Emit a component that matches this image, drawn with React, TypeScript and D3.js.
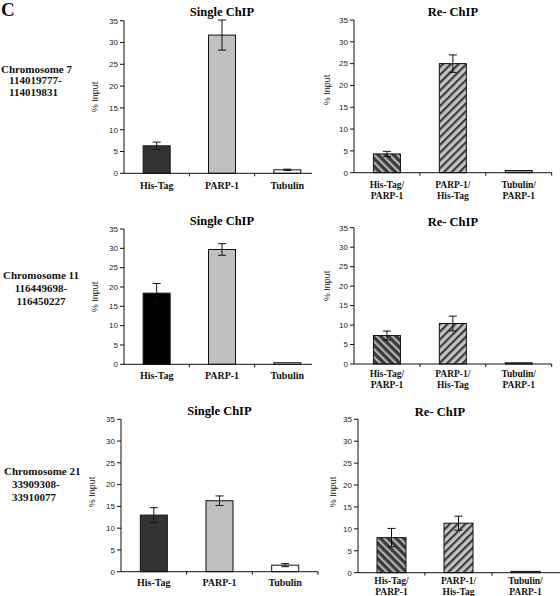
import React from "react";
import * as d3 from "d3";

// ---------- data ----------
const singleCategories = ["His-Tag", "PARP-1", "Tubulin"];
const reChipCategories = ["His-Tag/|PARP-1", "PARP-1/|His-Tag", "Tubulin/|PARP-1"];
const yTickValues = [0, 5, 10, 15, 20, 25, 30, 35];

const chr7SingleValues = [6.3, 31.7, 0.8];
const chr7SingleErrors = [0.85, 3.45, 0.15];
const chr7ReValues = [4.3, 25.0, 0.5];
const chr7ReErrors = [0.6, 2.0, 0];

const chr11SingleValues = [18.4, 29.7, 0.4];
const chr11SingleErrors = [2.5, 1.5, 0];
const chr11ReValues = [7.3, 10.4, 0.3];
const chr11ReErrors = [1.15, 1.9, 0];

const chr21SingleValues = [13.0, 16.3, 1.5];
const chr21SingleErrors = [1.7, 1.1, 0.35];
const chr21ReValues = [8.0, 11.3, 0.3];
const chr21ReErrors = [2.1, 1.6, 0];

const chr7Label = ["Chromosome 7", "114019777-", "114019831"];
const chr11Label = ["Chromosome 11", "116449698-", "116450227"];
const chr21Label = ["Chromosome 21", "33909308-", "33910077"];

const singleTitle = "Single ChIP";
const reTitle = "Re- ChIP";
const yAxisTitle = "% Input";

// ---------- layout ----------
const SERIF = "'Liberation Serif', 'Times New Roman', serif";
const SANS = "'Liberation Sans', Arial, sans-serif";

type Layout = {
  x0: number; x1: number; axisEnd: number; yTop: number; yBot: number;
  titleY: number; titleX?: number; labelY: number; labelGap: number;
  yLabelX: number; yLabelY: number; barW: number; endTick: boolean;
};

const layouts: Record<string, Layout> = {
  s1: { x0: 124, x1: 320, axisEnd: 312, yTop: 20.7, yBot: 173.3, titleY: 15.5, labelY: 188.5, labelGap: 0, yLabelX: 98, yLabelY: 97, barW: 27, endTick: false },
  r1: { x0: 354, x1: 551.7, axisEnd: 551.7, yTop: 20, yBot: 172.7, titleY: 15.5, labelY: 187.5, labelGap: 11, yLabelX: 330, yLabelY: 90, barW: 27, endTick: true },
  s2: { x0: 124, x1: 320, axisEnd: 312, yTop: 229, yBot: 364.3, titleY: 225, labelY: 379, labelGap: 0, yLabelX: 98, yLabelY: 297, barW: 27, endTick: false },
  r2: { x0: 354, x1: 551.7, axisEnd: 551.7, yTop: 227.7, yBot: 364, titleY: 226, labelY: 376.5, labelGap: 11, yLabelX: 330, yLabelY: 286, barW: 27, endTick: true },
  s3: { x0: 121, x1: 318, axisEnd: 318, yTop: 419.3, yBot: 571.7, titleY: 415, labelY: 585.5, labelGap: 0, yLabelX: 95, yLabelY: 492, barW: 27, endTick: true },
  r3: { x0: 358, x1: 559, axisEnd: 560, yTop: 419.3, yBot: 572.7, titleY: 416, titleX: 440, labelY: 583.5, labelGap: 11.5, yLabelX: 336, yLabelY: 492, barW: 29, endTick: false },
};

type PanelProps = {
  L: Layout; cats: string[]; values: number[]; errors: number[];
  fills: string[]; title: string;
};

function Panel({ L, cats, values, errors, fills, title }: PanelProps) {
  const x = d3.scaleBand<string>().domain(cats).range([L.x0, L.x1]).padding(0);
  const y = d3.scaleLinear().domain([0, 35]).range([L.yBot, L.yTop]);
  const bw = x.bandwidth();
  const boundaries = cats.map((_, i) => L.x0 + bw * (i + 1)).filter((v, i) => i < cats.length - 1 || L.endTick);
  const titleX = L.titleX ?? (L.x0 + L.x1) / 2;
  return (
    <g>
      <text x={titleX} y={L.titleY} textAnchor="middle" fontFamily={SERIF} fontWeight="bold" fontSize={12.5}>{title}</text>
      {cats.map((c, i) => {
        const cx = (x(c) as number) + bw / 2;
        const top = y(values[i]);
        return (
          <g key={c}>
            <rect x={cx - L.barW / 2} y={top} width={L.barW} height={L.yBot - top} fill={fills[i]} stroke="#111" strokeWidth={1} />
            {errors[i] > 0 && (
              <g stroke="#111" strokeWidth={1}>
                <line x1={cx} x2={cx} y1={y(values[i] - errors[i])} y2={y(values[i] + errors[i])} />
                <line x1={cx - 4} x2={cx + 4} y1={y(values[i] + errors[i])} y2={y(values[i] + errors[i])} />
                <line x1={cx - 4} x2={cx + 4} y1={y(values[i] - errors[i])} y2={y(values[i] - errors[i])} />
              </g>
            )}
          </g>
        );
      })}
      <line x1={L.x0} x2={L.x0} y1={y(35)} y2={y(0)} stroke="#111" strokeWidth={1} />
      {yTickValues.map((t) => (
        <g key={t}>
          <line x1={L.x0 - 4} x2={L.x0} y1={y(t)} y2={y(t)} stroke="#111" strokeWidth={1} />
          <text x={L.x0 - 6} y={y(t)} dy="0.35em" textAnchor="end" fontFamily={SANS} fontSize={8} fill="#222">{t}</text>
        </g>
      ))}
      <text transform={`translate(${L.yLabelX},${L.yLabelY}) rotate(-90)`} textAnchor="middle" fontFamily={SANS} fontSize={9} fill="#222">{yAxisTitle}</text>
      <line x1={L.x0} x2={L.axisEnd} y1={L.yBot} y2={L.yBot} stroke="#111" strokeWidth={1} />
      {boundaries.map((b, i) => (
        <line key={i} x1={b} x2={b} y1={L.yBot} y2={L.yBot + 3} stroke="#111" strokeWidth={1} />
      ))}
      {cats.map((c) => {
        const cx = (x(c) as number) + bw / 2;
        const lines = c.split("|");
        return (
          <text key={c} x={cx} y={L.labelY} textAnchor="middle" fontFamily={SERIF} fontWeight="bold" fontSize={lines.length > 1 ? 9.5 : 10} fill="#111">
            {lines.map((ln, k) => (
              <tspan key={k} x={cx} y={L.labelY + k * L.labelGap}>{ln}</tspan>
            ))}
          </text>
        );
      })}
    </g>
  );
}

function RegionLabel({ lines, xs, ys, anchor }: { lines: string[]; xs: number[]; ys: number[]; anchor: string }) {
  return (
    <g>
      {lines.map((l, i) => (
        <text key={i} x={xs[i]} y={ys[i]} textAnchor={anchor} fontFamily={SERIF} fontWeight="bold" fontSize={11} fill="#111">{l}</text>
      ))}
    </g>
  );
}

export default function App() {
  const hatchBack = "url(#hatchBack)";
  const hatchFwd = "url(#hatchFwd)";
  const reFills = [hatchBack, hatchFwd, "#a0a0a0"];
  return (
    <svg width={560} height={596} style={{ position: "absolute", left: 0, top: 0, background: "#fff" }}>
      <defs>
        <pattern id="hatchBack" patternUnits="userSpaceOnUse" width={5.5} height={10} patternTransform="rotate(-45)">
          <rect x={0} y={0} width={5.5} height={10} fill="#3a3a3a" />
          <rect x={0} y={0} width={2.2} height={10} fill="#b4b4b4" />
        </pattern>
        <pattern id="hatchFwd" patternUnits="userSpaceOnUse" width={5.5} height={10} patternTransform="rotate(45)">
          <rect x={0} y={0} width={5.5} height={10} fill="#c4c4c4" />
          <rect x={0} y={0} width={2.2} height={10} fill="#3c3c3c" />
        </pattern>
      </defs>
      <rect x={0} y={0} width={560} height={596} fill="#fff" />
      <text x={1} y={16} fontFamily={SERIF} fontWeight="bold" fontSize={19} fill="#111">C</text>

      <RegionLabel lines={chr7Label} xs={[1, 9, 9]} ys={[72.5, 84, 95.5]} anchor="start" />
      <RegionLabel lines={chr11Label} xs={[41, 41, 41]} ys={[278.5, 292, 304.5]} anchor="middle" />
      <RegionLabel lines={chr21Label} xs={[4, 12, 12]} ys={[475, 487.5, 500.5]} anchor="start" />

      <Panel L={layouts.s1} cats={singleCategories} values={chr7SingleValues} errors={chr7SingleErrors} fills={["#333333", "#c0c0c0", "#ffffff"]} title={singleTitle} />
      <Panel L={layouts.r1} cats={reChipCategories} values={chr7ReValues} errors={chr7ReErrors} fills={reFills} title={reTitle} />
      <Panel L={layouts.s2} cats={singleCategories} values={chr11SingleValues} errors={chr11SingleErrors} fills={["#000000", "#c0c0c0", "#ffffff"]} title={singleTitle} />
      <Panel L={layouts.r2} cats={reChipCategories} values={chr11ReValues} errors={chr11ReErrors} fills={reFills} title={reTitle} />
      <Panel L={layouts.s3} cats={singleCategories} values={chr21SingleValues} errors={chr21SingleErrors} fills={["#333333", "#c0c0c0", "#ffffff"]} title={singleTitle} />
      <Panel L={layouts.r3} cats={reChipCategories} values={chr21ReValues} errors={chr21ReErrors} fills={reFills} title={reTitle} />
    </svg>
  );
}
